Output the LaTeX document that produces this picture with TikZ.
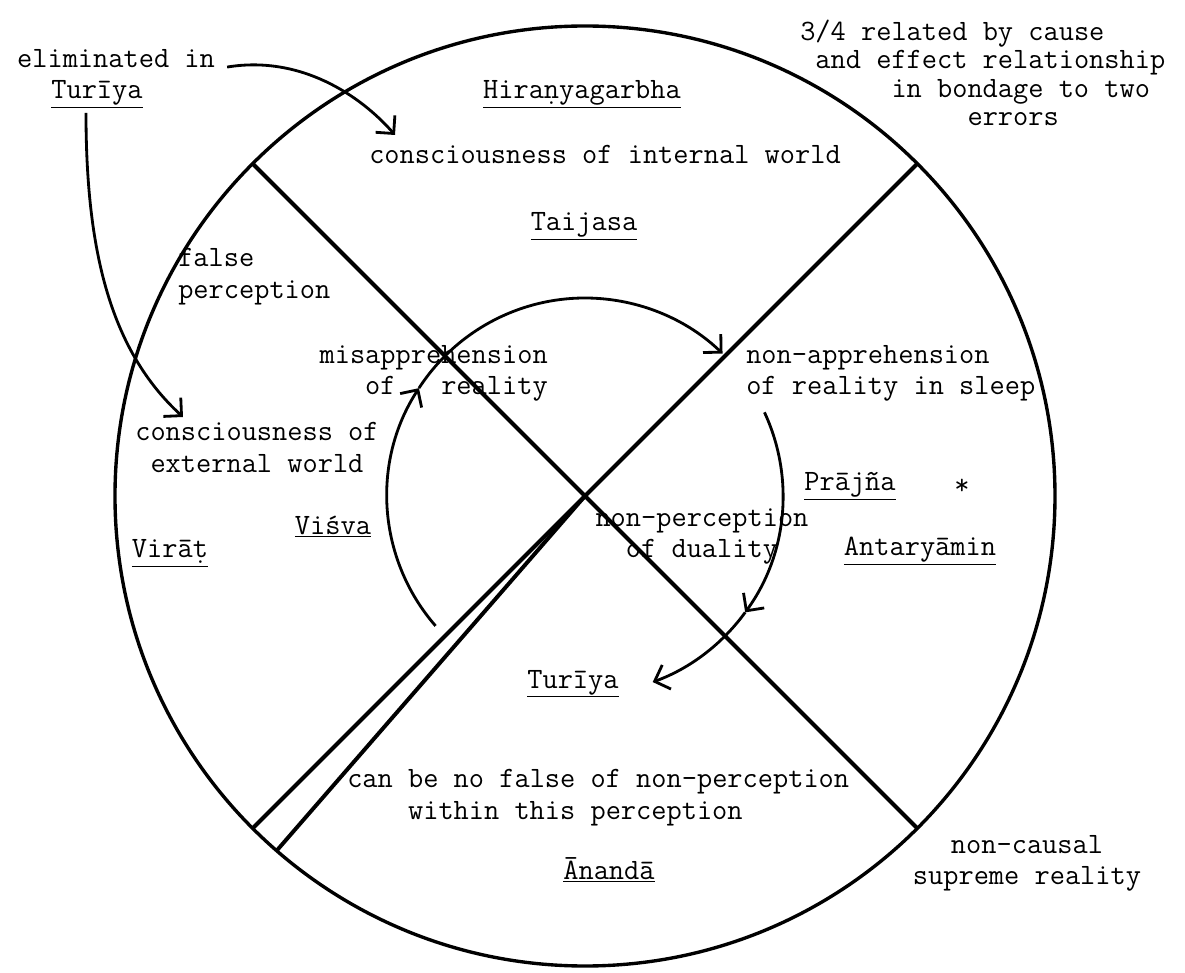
\documentclass[tikz,border=0pt]{standalone}
\usepackage{fontspec}
\usetikzlibrary{arrows.meta}
\usetikzlibrary{calc}

\newcommand{\typefont}{\fontsize{21}{22.5}\selectfont\ttfamily}
\newcommand{\tightfont}{\fontsize{21}{20}\selectfont\ttfamily}

\tikzset{
  lbl/.style={font=\typefont, inner sep=0pt},
  axis/.style={line width=2.8pt},
  ring/.style={line width=2.4pt},
  flow/.style={line width=2pt, -{Straight Barb[length=3.2mm,width=6.4mm]}},
}

\begin{document}
\begin{tikzpicture}[x=0.025cm,y=0.025cm]
      \useasboundingbox (-585,-477) rectangle (600,496);
      \coordinate (c) at (0,0);
      \coordinate (nw) at (135:470);
      \coordinate (ne) at (45:470);
      \coordinate (se) at (-45:470);
      \coordinate (sw) at (225:470);
      \coordinate (sw2) at (229:470);
      \draw[ring] (c) circle[radius=470];
      \draw[axis] (nw) -- (se);
      \draw[axis] (ne) -- (sw);
      \draw[axis] (c) -- (sw2);
      %
      \coordinate (p1) at (221:198);
      \coordinate (p2) at (147:198);
      \coordinate (p3) at (46:198);
      \coordinate (p4) at (25:198);
      \coordinate (p5) at (-36:198);
      \coordinate (p6) at (-70:198);
      \draw[flow] (p1) arc[start angle=221, end angle=147, radius=198];
      \draw[flow] (p2) arc[start angle=147, end angle=46, radius=198];
      \draw[flow] (p4) arc[start angle=25, end angle=-36, radius=198];
      \draw[flow] (p5) arc[start angle=-36, end angle=-70, radius=198];
      %
      \node[lbl, anchor=base] (elim) at (-469,428) {eliminated in};
      \node[lbl, anchor=base] (turA) at (-488,397) {\underline{Turīya}};
      \node[lbl, anchor=base] (hir) at (-3,397) {\underline{Hiraṇyagarbha}};
      \node[lbl, anchor=base] (cint) at (20,332) {consciousness of internal world};
      \node[lbl, anchor=base] (tai) at (-1,265) {\underline{Taijasa}};
      \node[lbl, font=\tightfont, anchor=north west, align=left] (rel) at (215,476)
        {3/4 related by cause\\~and effect relationship\\~~~~~~in bondage to two\\~~~~~~~~~~~errors};
      \node[lbl, anchor=north west, align=left] (fp) at (-407,248) {false\\perception};
      \node[lbl, anchor=north east, align=right] (misap) at (-37,151) {misapprehension\\of~~~reality};
      \node[lbl, anchor=north, align=center] (cext) at (-328,74) {consciousness of\\external world};
      \node[lbl, anchor=base] (visva) at (-252,-38) {\underline{Viśva}};
      \node[lbl, anchor=base] (virat) at (-415,-62) {\underline{Virāṭ}};
      \node[lbl, anchor=north west, align=left] (nonap) at (161,151) {non-apprehension\\of reality in sleep};
      \node[lbl, anchor=north, align=center] (nonperc) at (117,-12) {non-perception\\of duality};
      \node[lbl, anchor=base] (prajna) at (265,5) {\underline{Prājña}};
      \node[lbl] (star) at (377,9) {*};
      \node[lbl, anchor=base] (antar) at (335,-60) {\underline{Antaryāmin}};
      \node[lbl, anchor=base] (turB) at (-12,-192) {\underline{Turīya}};
      \node[lbl, anchor=north west, align=left] (nofalse) at (-238,-273)
        {can be no false of non-perception\\~~~~within this perception};
      \node[lbl, anchor=base] (ananda) at (24,-383) {\underline{Ānandā}};
      \node[lbl, anchor=north, align=center] (noncaus) at (442,-339) {non-causal\\supreme reality};
      %
      \coordinate (t1) at (-190,361);
      \coordinate (t2) at (-402,79);
      \draw[flow] ($(elim.east)+(12,-8)$) .. controls (-285,441) and (-225,401) .. (t1);
      \draw[flow] ($(turA.south)+(-11,-4)$) .. controls (-499,246) and (-475,146) .. (t2);
\end{tikzpicture}
\end{document}
